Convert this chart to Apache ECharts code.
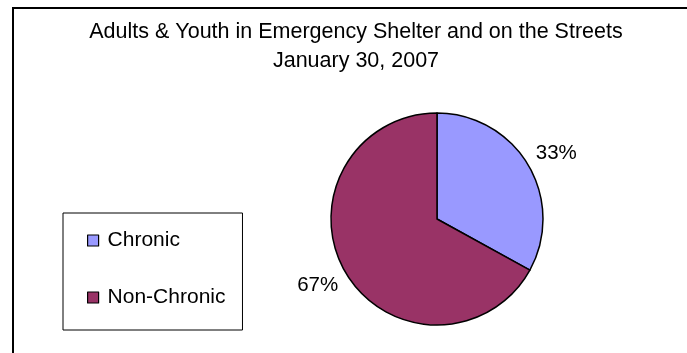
<!DOCTYPE html>
<html>
<head>
<meta charset="utf-8">
<script src="https://cdn.jsdelivr.net/npm/echarts@6/dist/echarts.min.js"></script>
<style>
  html, body { margin: 0; padding: 0; background: #fff; }
  #chart { width: 687px; height: 353px; }
</style>
</head>
<body>
<div id="chart"></div>
<script>
// Point-in-time count split by chronic status
const titleLines = ['Adults & Youth in Emergency Shelter and on the Streets', 'January 30, 2007'];
const categories = ['Chronic', 'Non-Chronic'];
const shares = [33, 67];
const colors = ['#9999FF', '#993366'];

const FONT = "'Liberation Sans', Arial, sans-serif";

const chart = echarts.init(document.getElementById('chart'), null, { renderer: 'canvas' });

chart.setOption({
  animation: false,
  backgroundColor: '#ffffff',
  color: colors,
  title: {
    text: titleLines.join('\n'),
    left: 356,
    top: 18,
    textAlign: 'center',
    padding: 0,
    textStyle: {
      fontFamily: FONT,
      fontSize: 21.5,
      fontWeight: 'normal',
      color: '#000',
      lineHeight: 29
    }
  },
  legend: {
    orient: 'vertical',
    left: 63,
    top: 213,
    padding: [17, 17, 22, 24],
    borderColor: '#000',
    borderWidth: 1,
    itemWidth: 11,
    itemHeight: 11,
    itemGap: 36,
    icon: 'rect',
    itemStyle: { borderColor: '#000', borderWidth: 1.2 },
    textStyle: {
      fontFamily: FONT,
      fontSize: 21,
      color: '#000',
      lineHeight: 20,
      padding: [0, 0, 0, 4]
    },
    data: categories
  },
  graphic: [{
    type: 'rect',
    shape: { x: 13, y: 8, width: 720, height: 420 },
    style: { fill: 'none', stroke: '#000', lineWidth: 2 },
    silent: true
  }],
  series: [{
    type: 'pie',
    center: [437, 219],
    radius: 106,
    startAngle: 90,
    clockwise: true,
    avoidLabelOverlap: false,
    itemStyle: { borderColor: '#000', borderWidth: 1.5 },
    label: {
      show: true,
      position: 'outside',
      formatter: '{c}%',
      fontFamily: FONT,
      fontSize: 20.5,
      color: '#000'
    },
    labelLine: { show: false, length: 3, length2: 0 },
    labelLayout: function (params) {
      return { verticalAlign: params.dataIndex === 0 ? 'bottom' : 'top' };
    },
    emphasis: { disabled: true },
    data: categories.map((name, i) => ({ name: name, value: shares[i] }))
  }]
});
</script>
</body>
</html>
